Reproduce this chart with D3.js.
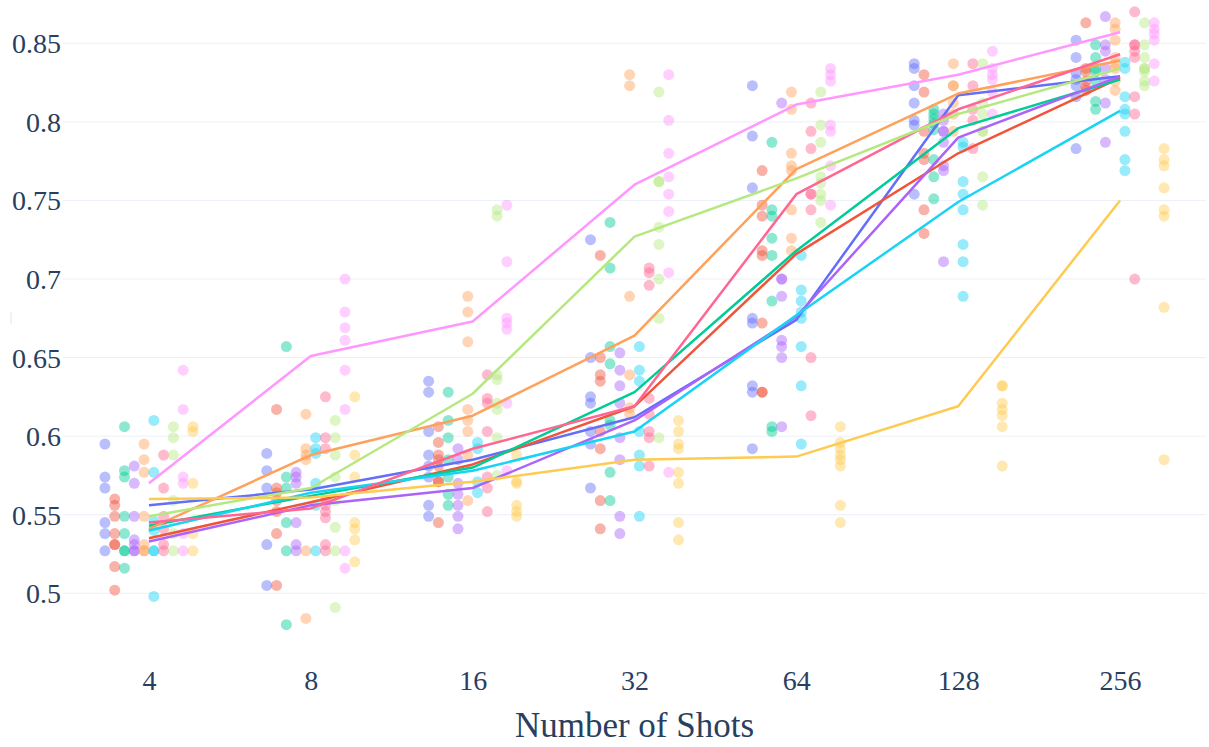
<!DOCTYPE html>
<html>
<head>
<meta charset="utf-8">
<script src="https://cdn.jsdelivr.net/npm/d3@7"></script>
<style>
  html, body { margin: 0; padding: 0; background: #fff; }
  svg { display: block; }
  svg text { font-family: "Liberation Serif", "Times New Roman", serif !important; fill: #2a3f5f; }
</style>
</head>
<body>
<svg id="chart" width="1209" height="747"></svg>
<script>
// Shot counts on the x axis
const categories = ["4", "8", "16", "32", "64", "128", "256"];
const yTicks = [0.5, 0.55, 0.6, 0.65, 0.7, 0.75, 0.8, 0.85];
const FONT = "Liberation Serif, Times New Roman, serif";

// Median score per shot count (one line per run)
const blueLine    = [0.556, 0.566, 0.585, 0.612, 0.674, 0.817, 0.829];
const redLine     = [0.535, 0.558, 0.582, 0.619, 0.716, 0.780, 0.828];
const greenLine   = [0.543, 0.562, 0.580, 0.628, 0.718, 0.796, 0.827];
const purpleLine  = [0.533, 0.556, 0.567, 0.610, 0.676, 0.790, 0.829];
const orangeLine  = [0.541, 0.588, 0.613, 0.664, 0.770, 0.818, 0.839];
const cyanLine    = [0.540, 0.564, 0.578, 0.603, 0.677, 0.749, 0.807];
const pinkLine    = [0.545, 0.554, 0.592, 0.619, 0.754, 0.808, 0.843];
const limeLine    = [0.549, 0.567, 0.627, 0.727, 0.764, 0.805, 0.834];
const magentaLine = [0.570, 0.651, 0.673, 0.760, 0.811, 0.830, 0.857];
const yellowLine  = [0.560, 0.561, 0.571, 0.585, 0.587, 0.619, 0.750];

// Individual scores per shot count
const bluePoints = [
  [0.595, 0.574, 0.567, 0.545, 0.538, 0.527],
  [0.589, 0.578, 0.567, 0.531, 0.505],
  [0.635, 0.628, 0.603, 0.588, 0.581, 0.574, 0.556, 0.549],
  [0.725, 0.650, 0.625, 0.621, 0.603, 0.595, 0.567],
  [0.823, 0.791, 0.758, 0.675, 0.672, 0.632, 0.628, 0.592],
  [0.837, 0.834, 0.823, 0.812, 0.801, 0.798, 0.754],
  [0.852, 0.841, 0.831, 0.827, 0.823, 0.816, 0.783]
];
const redPoints = [
  [0.560, 0.556, 0.549, 0.538, 0.531, 0.531, 0.517, 0.502],
  [0.617, 0.567, 0.564, 0.559, 0.552, 0.538, 0.505],
  [0.606, 0.596, 0.588, 0.585, 0.581, 0.571, 0.571, 0.545],
  [0.715, 0.650, 0.639, 0.635, 0.603, 0.592, 0.559, 0.541],
  [0.769, 0.747, 0.740, 0.718, 0.715, 0.672, 0.628, 0.628],
  [0.830, 0.819, 0.794, 0.780, 0.776, 0.744, 0.729],
  [0.863, 0.834, 0.832, 0.826, 0.822, 0.820]
];
const greenPoints = [
  [0.606, 0.578, 0.574, 0.549, 0.538, 0.527, 0.527, 0.516],
  [0.657, 0.574, 0.567, 0.545, 0.527, 0.480],
  [0.628, 0.610, 0.599, 0.585, 0.574, 0.563, 0.556],
  [0.736, 0.707, 0.657, 0.646, 0.610, 0.607, 0.577, 0.559],
  [0.787, 0.744, 0.740, 0.726, 0.715, 0.686, 0.606, 0.603],
  [0.808, 0.805, 0.802, 0.799, 0.795, 0.776, 0.765, 0.751],
  [0.849, 0.841, 0.834, 0.832, 0.826, 0.813, 0.808]
];
const purplePoints = [
  [0.581, 0.570, 0.549, 0.534, 0.531, 0.527, 0.527],
  [0.577, 0.574, 0.570, 0.545, 0.531, 0.527],
  [0.592, 0.585, 0.570, 0.563, 0.556, 0.549, 0.541],
  [0.653, 0.642, 0.632, 0.621, 0.599, 0.585, 0.549, 0.538],
  [0.812, 0.700, 0.700, 0.689, 0.661, 0.657, 0.650, 0.606],
  [0.805, 0.801, 0.794, 0.794, 0.787, 0.772, 0.769, 0.711],
  [0.867, 0.849, 0.845, 0.834, 0.827, 0.812, 0.787]
];
const orangePoints = [
  [0.595, 0.585, 0.577, 0.549, 0.531, 0.527, 0.527],
  [0.614, 0.592, 0.588, 0.585, 0.527, 0.484],
  [0.689, 0.679, 0.660, 0.617, 0.610, 0.603, 0.588, 0.559],
  [0.830, 0.823, 0.689, 0.639, 0.618, 0.614],
  [0.819, 0.808, 0.780, 0.772, 0.769, 0.744, 0.726, 0.718],
  [0.837, 0.823, 0.823, 0.812, 0.805, 0.794],
  [0.863, 0.859, 0.852, 0.841, 0.837, 0.834, 0.826, 0.820]
];
const cyanPoints = [
  [0.610, 0.577, 0.546, 0.540, 0.527, 0.527, 0.498],
  [0.599, 0.592, 0.589, 0.570, 0.556, 0.527],
  [0.596, 0.592, 0.571, 0.564],
  [0.657, 0.642, 0.635, 0.603, 0.588, 0.581, 0.549],
  [0.715, 0.693, 0.686, 0.679, 0.675, 0.657, 0.632, 0.595],
  [0.787, 0.784, 0.762, 0.754, 0.744, 0.722, 0.711, 0.689],
  [0.838, 0.834, 0.816, 0.808, 0.805, 0.794, 0.776, 0.769]
];
const pinkPoints = [
  [0.588, 0.567, 0.549, 0.541, 0.531, 0.527],
  [0.625, 0.599, 0.592, 0.559, 0.556, 0.552, 0.548, 0.531, 0.527],
  [0.639, 0.624, 0.621, 0.603, 0.574, 0.567, 0.552],
  [0.707, 0.704, 0.696, 0.624, 0.614, 0.603, 0.599, 0.581],
  [0.812, 0.794, 0.783, 0.754, 0.754, 0.744, 0.650, 0.613],
  [0.837, 0.823, 0.808, 0.801, 0.783],
  [0.870, 0.849, 0.849, 0.845, 0.841, 0.816, 0.805, 0.700]
];
const limePoints = [
  [0.606, 0.599, 0.588, 0.559, 0.538, 0.527],
  [0.610, 0.599, 0.588, 0.574, 0.559, 0.542, 0.527, 0.491],
  [0.744, 0.740, 0.639, 0.636, 0.621, 0.617, 0.599, 0.575],
  [0.819, 0.762, 0.762, 0.733, 0.722, 0.700, 0.675, 0.599],
  [0.819, 0.798, 0.787, 0.765, 0.761, 0.754, 0.750, 0.736],
  [0.837, 0.812, 0.805, 0.794, 0.794, 0.765, 0.747],
  [0.863, 0.849, 0.841, 0.834, 0.834, 0.832, 0.826, 0.823]
];
const magentaPoints = [
  [0.642, 0.617, 0.574, 0.570, 0.538, 0.527],
  [0.700, 0.679, 0.669, 0.661, 0.642, 0.617, 0.527, 0.516],
  [0.747, 0.711, 0.675, 0.672, 0.668, 0.621, 0.578],
  [0.830, 0.801, 0.780, 0.765, 0.754, 0.743, 0.704, 0.577],
  [0.834, 0.830, 0.826, 0.798, 0.794, 0.772, 0.747],
  [0.845, 0.834, 0.830, 0.827, 0.819, 0.805],
  [0.863, 0.859, 0.856, 0.852, 0.837, 0.826]
];
const yellowPoints = [
  [0.606, 0.603, 0.570, 0.538, 0.527],
  [0.625, 0.588, 0.574, 0.545, 0.541, 0.534, 0.520],
  [0.588, 0.571, 0.570, 0.556, 0.552, 0.549],
  [0.610, 0.603, 0.595, 0.592, 0.577, 0.570, 0.545, 0.534],
  [0.606, 0.596, 0.592, 0.588, 0.585, 0.581, 0.556, 0.545],
  [0.632, 0.632, 0.621, 0.617, 0.613, 0.606, 0.581],
  [0.783, 0.776, 0.772, 0.758, 0.744, 0.740, 0.682, 0.585]
];

// Plotly-style qualitative palette, one colour per run
const colors = ["#636EFA", "#EF553B", "#00CC96", "#AB63FA", "#FFA15A",
                "#19D3F3", "#FF6692", "#B6E880", "#FF97FF", "#FECB52"];

const series = [
  { line: blueLine,    points: bluePoints },
  { line: redLine,     points: redPoints },
  { line: greenLine,   points: greenPoints },
  { line: purpleLine,  points: purplePoints },
  { line: orangeLine,  points: orangePoints },
  { line: cyanLine,    points: cyanPoints },
  { line: pinkLine,    points: pinkPoints },
  { line: limeLine,    points: limePoints },
  { line: magentaLine, points: magentaPoints },
  { line: yellowLine,  points: yellowPoints }
].map((s, i) => ({ ...s, color: colors[i], index: i }));

const svg = d3.select("#chart");
const plot = { left: 63, right: 1206 };

const x = d3.scalePoint().domain(categories).range([plot.left, plot.right]).padding(0.531);
const y = d3.scaleLinear().domain([0.5, 0.85]).range([593.3, 43.3]);

// Points of each run sit side by side around the category centre
const dodge = d3.scaleLinear().domain([0, series.length - 1]).range([-44, 44]);

// Horizontal grid
svg.append("g")
  .selectAll("line")
  .data(yTicks)
  .join("line")
  .attr("x1", plot.left).attr("x2", plot.right)
  .attr("y1", d => y(d)).attr("y2", d => y(d))
  .attr("stroke", "#ebf0f8").attr("stroke-width", 1);

// Y tick labels
const yAxis = d3.axisLeft(y).tickValues(yTicks).tickSize(0).tickPadding(0)
  .tickFormat(d => String(+d.toFixed(2)));
const gy = svg.append("g").attr("transform", "translate(61,0)").call(yAxis)
  .attr("font-family", FONT).attr("font-size", 28);
gy.select(".domain").remove();
gy.selectAll("text")
  .attr("dy", "0.34em")
  .attr("font-family", FONT)
  .attr("fill", "#2a3f5f");

// X tick labels
const xAxis = d3.axisBottom(x).tickSize(0).tickPadding(0);
const gx = svg.append("g").attr("transform", "translate(0,670)").call(xAxis)
  .attr("font-family", FONT).attr("font-size", 28);
gx.select(".domain").remove();
gx.selectAll("text")
  .attr("dy", "0.71em")
  .attr("font-family", FONT)
  .attr("fill", "#2a3f5f");

// Faint y-axis title stub
svg.append("line")
  .attr("x1", 11).attr("x2", 11).attr("y1", 312).attr("y2", 324)
  .attr("stroke", "#dfe3ea").attr("stroke-width", 1);

// X axis title
svg.append("text")
  .attr("x", (plot.left + plot.right) / 2).attr("y", 737)
  .attr("text-anchor", "middle").attr("font-size", 35)
  .attr("font-family", FONT)
  .text("Number of Shots");

// Scatter of individual scores
const pts = [];
series.forEach(s => {
  s.points.forEach((vals, ci) => {
    vals.forEach(v => pts.push({ cat: categories[ci], v, s }));
  });
});
svg.append("g")
  .selectAll("circle")
  .data(pts)
  .join("circle")
  .attr("cx", d => x(d.cat) + dodge(d.s.index))
  .attr("cy", d => y(d.v))
  .attr("r", 5.5)
  .attr("fill", d => d.s.color)
  .attr("fill-opacity", 0.45);

// Median lines
const line = d3.line()
  .x((d, i) => x(categories[i]))
  .y(d => y(d));
svg.append("g")
  .selectAll("path")
  .data(series)
  .join("path")
  .attr("d", d => line(d.line))
  .attr("fill", "none")
  .attr("stroke", d => d.color)
  .attr("stroke-width", 2.5)
  .attr("stroke-linejoin", "round");
</script>
</body>
</html>
